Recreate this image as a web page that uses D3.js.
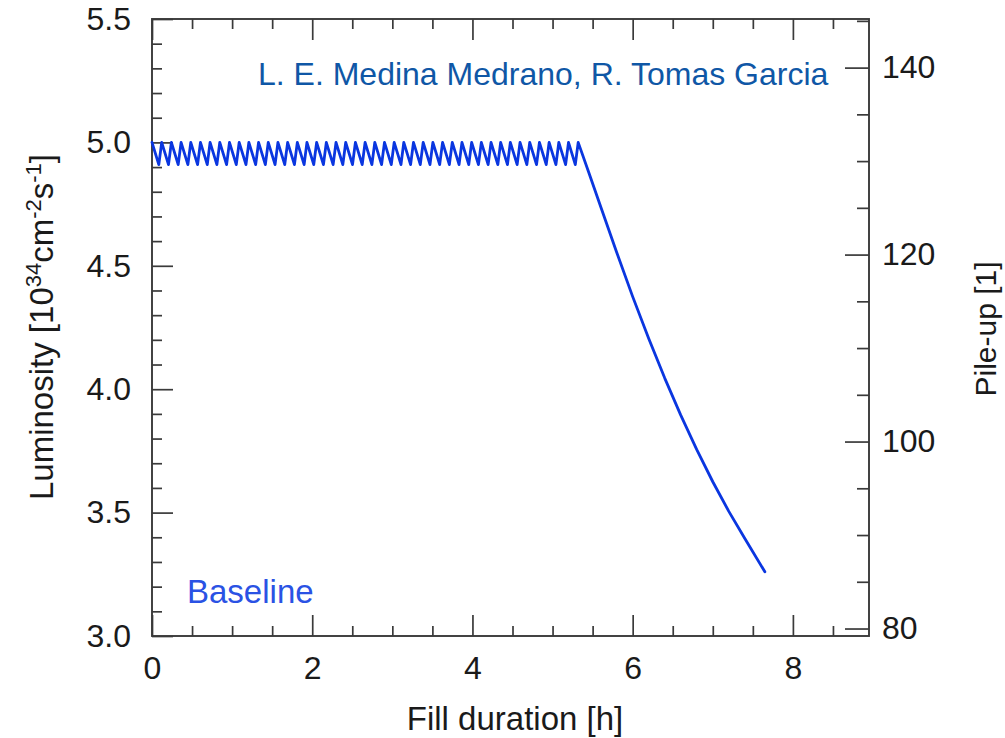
<!DOCTYPE html>
<html>
<head>
<meta charset="utf-8">
<script src="https://cdn.jsdelivr.net/npm/d3@7"></script>
<style>
  html, body { margin: 0; padding: 0; background: #fff; }
  svg { display: block; }
  text { font-family: "Liberation Sans", Arial, Helvetica, sans-serif; }
</style>
</head>
<body>
<svg id="chart" width="1005" height="738"></svg>
<script>
// ---- data ----
// luminosity-levelling phase: peaks (5.0) and troughs
const levelPeakTimes = [0, 0.121, 0.242, 0.363, 0.484, 0.605, 0.725, 0.846, 0.967, 1.088, 1.209, 1.330, 1.451, 1.572, 1.693, 1.814, 1.934, 2.055, 2.176, 2.297, 2.418, 2.539, 2.660, 2.781, 2.902, 3.023, 3.143, 3.264, 3.385, 3.506, 3.627, 3.748, 3.869, 3.990, 4.111, 4.232, 4.352, 4.473, 4.594, 4.715, 4.836, 4.957, 5.078, 5.199, 5.320];
const levelTroughTimes = [0.085, 0.206, 0.327, 0.448, 0.569, 0.690, 0.810, 0.931, 1.052, 1.173, 1.294, 1.415, 1.536, 1.657, 1.778, 1.899, 2.019, 2.140, 2.261, 2.382, 2.503, 2.624, 2.745, 2.866, 2.987, 3.108, 3.228, 3.349, 3.470, 3.591, 3.712, 3.833, 3.954, 4.075, 4.196, 4.317, 4.437, 4.558, 4.679, 4.800, 4.921, 5.042, 5.163, 5.284];
const levelPeakLumi = 5.0;
const levelTroughLumi = 4.91;
// decay phase after end of levelling
const decayTimes = [5.45, 5.6, 5.8, 6.0, 6.2, 6.4, 6.6, 6.8, 7.0, 7.2, 7.4, 7.65];
const decayLumi  = [4.88, 4.74, 4.555, 4.375, 4.205, 4.045, 3.895, 3.755, 3.625, 3.505, 3.395, 3.26];

const xMajorTicks = [0, 2, 4, 6, 8];
const xTickLabels = ["0", "2", "4", "6", "8"];
const yMajorTicks = [3.0, 3.5, 4.0, 4.5, 5.0, 5.5];
const yTickLabels = ["3.0", "3.5", "4.0", "4.5", "5.0", "5.5"];
const pileupTicks = [80, 100, 120, 140];
const pileupTickLabels = ["80", "100", "120", "140"];
const pileupPerLumi = 26.4;   // pile-up per 1e34 cm^-2 s^-1

const annotation = "L. E. Medina Medrano, R. Tomas Garcia";
const seriesLabel = "Baseline";

// ---- build series table ----
const points = [];
levelPeakTimes.forEach((t, i) => {
  points.push({t: t, L: levelPeakLumi});
  if (i < levelTroughTimes.length) points.push({t: levelTroughTimes[i], L: levelTroughLumi});
});
decayTimes.forEach((t, i) => points.push({t: t, L: decayLumi[i]}));

// ---- layout ----
const svg = d3.select("#chart");
const pLeft = 152, pRight = 869, pTop = 19, pBottom = 636;
const xDomain = [0, 8.95];
const yDomain = [3.0, 5.5];

const x = d3.scaleLinear().domain(xDomain).range([pLeft, pRight]);
const y = d3.scaleLinear().domain(yDomain).range([pBottom, pTop]);
const yP = d3.scaleLinear().domain([yDomain[0] * pileupPerLumi, yDomain[1] * pileupPerLumi]).range([pBottom, pTop]);

const axisColor = "#3a3a3a";
const tickFont = 32;
const majorLen = 21, minorLen = 10;

function styleAxis(g) {
  g.select(".domain").remove();
  g.selectAll(".tick line").attr("stroke", axisColor).attr("stroke-width", 1.7);
  g.selectAll(".tick text").attr("fill", "#1a1a1a").attr("font-size", tickFont)
    .attr("font-family", "'Liberation Sans', Arial, sans-serif");
}

const xMinor = d3.range(0, 8.76, 0.5).filter(v => !xMajorTicks.includes(v));
const yMinor = d3.range(3.0, 5.501, 0.1).map(v => +v.toFixed(2)).filter(v => !yMajorTicks.some(m => Math.abs(m - v) < 1e-6));
const pMinor = d3.range(80, 146, 5).filter(v => !pileupTicks.includes(v));

// bottom axis
svg.append("g").attr("transform", `translate(0,${pBottom})`)
  .call(d3.axisBottom(x).tickValues(xMajorTicks).tickFormat((d, i) => xTickLabels[i]).tickSize(-majorLen).tickPadding(20))
  .call(styleAxis);
svg.append("g").attr("transform", `translate(0,${pBottom})`)
  .call(d3.axisBottom(x).tickValues(xMinor).tickFormat("").tickSize(-minorLen)).call(styleAxis);
// top axis
svg.append("g").attr("transform", `translate(0,${pTop})`)
  .call(d3.axisTop(x).tickValues(xMajorTicks).tickFormat("").tickSize(-majorLen)).call(styleAxis);
svg.append("g").attr("transform", `translate(0,${pTop})`)
  .call(d3.axisTop(x).tickValues(xMinor).tickFormat("").tickSize(-minorLen)).call(styleAxis);
// left axis
svg.append("g").attr("transform", `translate(${pLeft},0)`)
  .call(d3.axisLeft(y).tickValues(yMajorTicks).tickFormat((d, i) => yTickLabels[i]).tickSize(-majorLen).tickPadding(21))
  .call(styleAxis);
svg.append("g").attr("transform", `translate(${pLeft},0)`)
  .call(d3.axisLeft(y).tickValues(yMinor).tickFormat("").tickSize(-minorLen)).call(styleAxis);
// right axis (pile-up)
svg.append("g").attr("transform", `translate(${pRight},0)`)
  .call(d3.axisRight(yP).tickValues(pileupTicks).tickFormat((d, i) => pileupTickLabels[i]).tickSize(-majorLen - 3).tickPadding(13))
  .call(styleAxis);
svg.append("g").attr("transform", `translate(${pRight},0)`)
  .call(d3.axisRight(yP).tickValues(pMinor).tickFormat("").tickSize(-minorLen - 2)).call(styleAxis);

// frame
svg.append("rect").attr("x", pLeft).attr("y", pTop).attr("width", pRight - pLeft).attr("height", pBottom - pTop)
  .attr("fill", "none").attr("stroke", axisColor).attr("stroke-width", 1.9);

// series line
const line = d3.line().x(d => x(d.t)).y(d => y(d.L));
svg.append("path").datum(points).attr("d", line)
  .attr("fill", "none").attr("stroke", "#0a36e0").attr("stroke-width", 2.8)
  .attr("stroke-linejoin", "round").attr("stroke-linecap", "round");

// axis titles
svg.append("text").attr("x", 515).attr("y", 730)
  .attr("text-anchor", "middle").attr("font-size", 33).attr("fill", "#1a1a1a")
  .text("Fill duration [h]");

const yl = svg.append("text").attr("transform", "translate(53,327) rotate(-90)")
  .attr("text-anchor", "middle").attr("font-size", 33).attr("fill", "#1a1a1a");
yl.append("tspan").text("Luminosity [10");
yl.append("tspan").attr("font-size", 22).attr("dy", -12).text("34");
yl.append("tspan").attr("font-size", 33).attr("dy", 12).text("cm");
yl.append("tspan").attr("font-size", 22).attr("dy", -12).text("-2");
yl.append("tspan").attr("font-size", 33).attr("dy", 12).text("s");
yl.append("tspan").attr("font-size", 22).attr("dy", -12).text("-1");
yl.append("tspan").attr("font-size", 33).attr("dy", 12).text("]");

svg.append("text").attr("transform", "translate(996,329) rotate(-90)")
  .attr("text-anchor", "middle").attr("font-size", 30).attr("fill", "#1a1a1a")
  .text("Pile-up [1]");

// annotations
svg.append("text").attr("x", 258).attr("y", 85).attr("font-size", 32).attr("fill", "#0f57a6")
  .text(annotation);
svg.append("text").attr("x", 187).attr("y", 603).attr("font-size", 33).attr("fill", "#2a52e4")
  .text(seriesLabel);
</script>
</body>
</html>
